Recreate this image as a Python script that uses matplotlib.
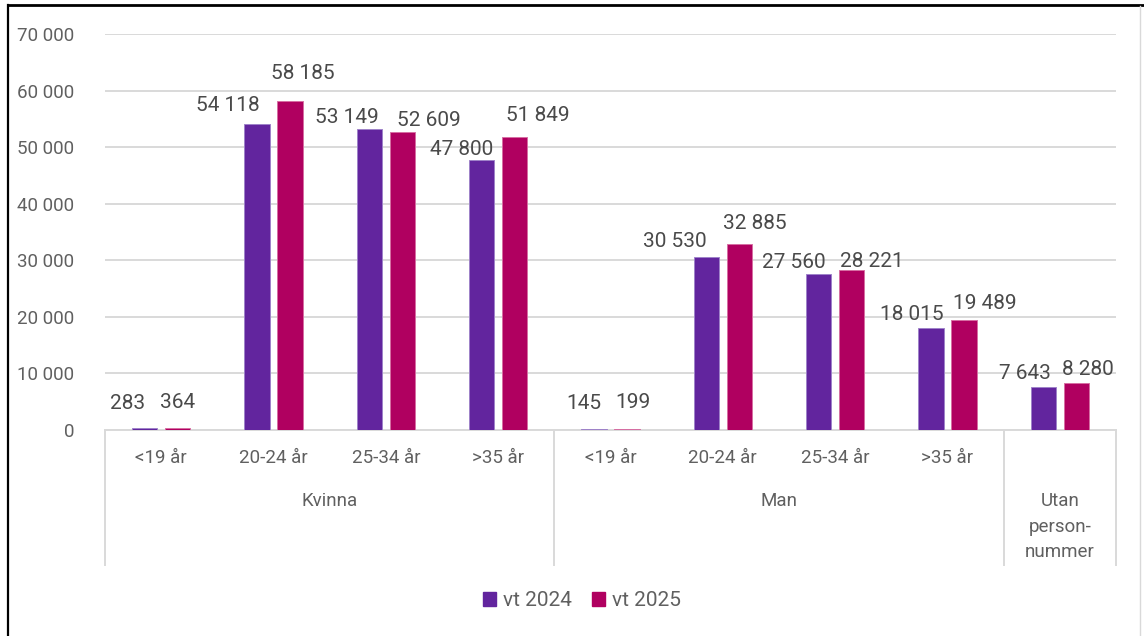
import matplotlib
matplotlib.use("Agg")
import matplotlib.pyplot as plt
import matplotlib.transforms as mtransforms
from matplotlib.lines import Line2D
from matplotlib.patches import Patch
import numpy as np

plt.rcParams['font.family'] = ['Roboto', 'DejaVu Sans']

# ---- data ----
age_labels = ["<19 år", "20-24 år", "25-34 år", ">35 år",
              "<19 år", "20-24 år", "25-34 år", ">35 år", ""]
groups = ["Kvinna", "Man", "Utan\nperson-\nnummer"]
group_sizes = [4, 4, 1]
series_names = ["vt 2024", "vt 2025"]
vt2024 = [283, 54118, 53149, 47800, 145, 30530, 27560, 18015, 7643]
vt2025 = [364, 58185, 52609, 51849, 199, 32885, 28221, 19489, 8280]
yticks = [0, 10000, 20000, 30000, 40000, 50000, 60000, 70000]

# label offsets (pixels) relative to bar top centre: (dx, dy)
off2024 = [(-17, 25), (-29, 18), (-22, 12), (-20, 10), (-10, 26),
           (-32, 16), (-25, 12), (-19, 14), (-18, 13)]
off2025 = [(0, 25), (13, 27), (27, 12), (23, 21), (6, 26),
           (15, 20), (20, 9), (21, 16), (12, 14)]

# ---- style ----
C1 = "#62259E"
C2 = "#B00060"
E1 = "#9F83C9"
E2 = "#D66FA3"
GRID = "#D9D9D9"
TXT = "#606060"
LBL = "#4A4A4A"

W, H = 1144, 636
fig = plt.figure(figsize=(W / 100, H / 100), dpi=100)
fig.patch.set_facecolor("white")

left_px, right_px, top_px, bot_px = 105, 1116, 34, 430
ax = fig.add_axes([left_px / W, (H - bot_px) / H,
                   (right_px - left_px) / W, (bot_px - top_px) / H])

n = len(vt2024)
x = np.arange(n)
bw = 0.223
off = 0.147
ax.bar(x - off, vt2024, width=bw, color=C1, edgecolor=E1, linewidth=0.7, zorder=3)
ax.bar(x + off, vt2025, width=bw, color=C2, edgecolor=E2, linewidth=0.7, zorder=3)

ax.set_xlim(-0.5, n - 0.5)
ax.set_ylim(0, 70000)
ax.set_yticks(yticks)
ax.set_yticklabels([f"{v:,}".replace(",", " ") for v in yticks],
                   fontsize=13.5, color=TXT)
ax.tick_params(axis="y", length=0, pad=22)
ax.set_xticks([])
for s in ax.spines.values():
    s.set_visible(False)
ax.grid(axis="y", color=GRID, linewidth=1.4, zorder=0)
ax.axhline(0, color=GRID, linewidth=1.4, zorder=1, clip_on=False)

def fmt(v):
    return f"{v:,}".replace(",", " ")

for i in range(n):
    ax.annotate(fmt(vt2024[i]), (x[i] - off, vt2024[i]),
                xytext=off2024[i], textcoords="offset pixels",
                ha="center", va="center", fontsize=15, color=LBL)
    ax.annotate(fmt(vt2025[i]), (x[i] + off, vt2025[i]),
                xytext=off2025[i], textcoords="offset pixels",
                ha="center", va="center", fontsize=15, color=LBL)

# ---- hierarchical category axis ----
tr = mtransforms.blended_transform_factory(ax.transData, fig.transFigure)
def fy(px):
    return (H - px) / H

for i, lab in enumerate(age_labels):
    if lab:
        fig.text(i, fy(458), lab, transform=tr, ha="center", va="center",
                 fontsize=13.5, color=TXT)

bounds = np.concatenate([[0], np.cumsum(group_sizes)]) - 0.5
for b in bounds:
    fig.add_artist(Line2D([b, b], [fy(430), fy(565)], transform=tr,
                          color=GRID, linewidth=1.4))
for g, (a, b) in zip(groups, zip(bounds[:-1], bounds[1:])):
    fig.text((a + b) / 2, fy(492), g, transform=tr, ha="center", va="top",
             fontsize=13.5, color=TXT, linespacing=1.55)

# ---- legend ----
handles = [Patch(facecolor=C1, edgecolor=C1), Patch(facecolor=C2, edgecolor=C2)]
leg = fig.legend(handles, series_names, loc="center", bbox_to_anchor=(582 / W, fy(601)),
                 ncol=2, frameon=False, fontsize=15, handlelength=0.62,
                 handleheight=0.62, handletextpad=0.3, columnspacing=1.0)
for t in leg.get_texts():
    t.set_color(TXT)

# ---- outer frame ----
fig.add_artist(Line2D([8 / W, 8 / W], [0, fy(5)], transform=fig.transFigure,
                      color="black", linewidth=1.6))
fig.add_artist(Line2D([8 / W, 1], [fy(5), fy(5)], transform=fig.transFigure,
                      color="black", linewidth=2.0))
fig.add_artist(Line2D([1140 / W, 1140 / W], [0, fy(6)], transform=fig.transFigure,
                      color="#D9D9D9", linewidth=1.0))

fig.savefig("out.png", dpi=100, facecolor="white")
